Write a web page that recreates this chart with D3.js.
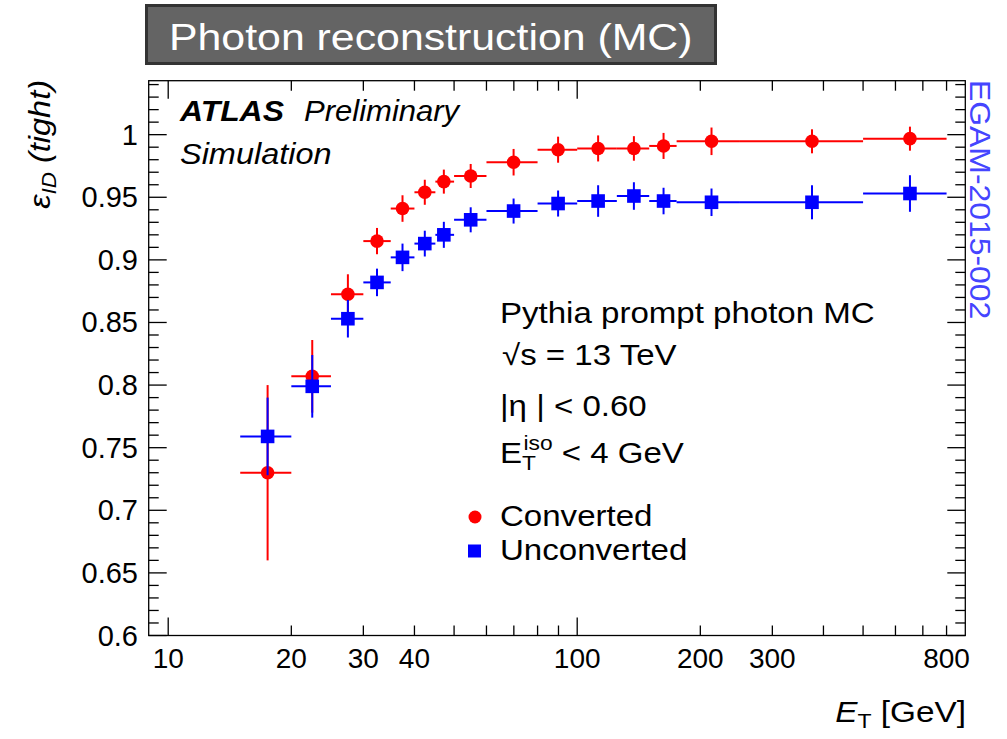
<!DOCTYPE html>
<html><head><meta charset="utf-8">
<script src="https://cdn.jsdelivr.net/npm/d3@7"></script>
<style>
body{margin:0;background:#fff}
svg{display:block}
text{font-family:"Liberation Sans",Arial,Helvetica,sans-serif}
</style>
</head><body>
<svg id="c" width="1007" height="739"></svg>
<script>
// ---- data ----
const binEdges   = [15,20,25,30,35,40,45,50,60,80,100,125,150,175,250,500,800];
const etMean     = [17.5,22.5,27.5,32.4,37.4,42.4,47.2,54.9,69.9,89.8,112.5,137.6,162.6,213,375,651];
const convEff    = [0.730,0.807,0.8725,0.915,0.941,0.954,0.9625,0.967,0.978,0.988,0.989,0.989,0.991,0.9947,0.9947,0.9968];
const convErr    = [0.070,0.029,0.016,0.0105,0.0106,0.010,0.0096,0.0096,0.0106,0.0104,0.0104,0.0098,0.0104,0.011,0.0096,0.0096];
const unconvEff  = [0.759,0.799,0.853,0.882,0.902,0.913,0.920,0.932,0.939,0.945,0.947,0.951,0.947,0.946,0.946,0.953];
const unconvErr  = [0.031,0.025,0.015,0.011,0.011,0.0103,0.0104,0.010,0.010,0.0104,0.0126,0.011,0.0106,0.011,0.0136,0.0146];
const xTickLabels = [10,20,30,40,100,200,300,800];
const xMajorTicks = [10,100];
const xMinorTicks = [20,30,40,50,60,70,80,90,200,300,400,500,600,700,800];
const yTickLabels = [0.6,0.65,0.7,0.75,0.8,0.85,0.9,0.95,1];
const xRange = [8.96, 889];
const yRange = [0.6, 1.0431];

// ---- layout ----
const L = 148.7, R = 965.3, T = 80.7, B = 635.5;
const SX = 1.15;
const svg = d3.select("#c");
const x = d3.scaleLog().domain(xRange).range([L, R]);
const y = d3.scaleLinear().domain(yRange).range([B, T]);

function label(tx, ty, size, opts={}){
  const rot = opts.rotate||0, sx = opts.sx||SX;
  return svg.append("text")
    .attr("transform",`translate(${tx},${ty}) rotate(${rot}) scale(${sx},1)`)
    .attr("font-size",size)
    .attr("text-anchor",opts.anchor||"start")
    .attr("fill",opts.fill||"#000");
}

// title box
svg.append("rect").attr("x",146.5).attr("y",5.5).attr("width",569).attr("height",58)
  .attr("fill","#646464").attr("stroke","#333").attr("stroke-width",3);
label(169,50,36,{fill:"#fff",sx:1.19}).text("Photon reconstruction (MC)");

// frame
svg.append("rect").attr("x",L).attr("y",T).attr("width",R-L).attr("height",B-T)
  .attr("fill","none").attr("stroke","#000").attr("stroke-width",1.3);

const g = svg.append("g").attr("stroke","#000").attr("stroke-width",1.3);
const yMinor = d3.range(60, 105, 1).map(v=>v/100).filter(v=>v<=yRange[1]);
yMinor.forEach(v=>{
  const major = Math.abs(v*20 - Math.round(v*20))<1e-6;
  const len = major?18:10;
  g.append("line").attr("x1",L).attr("x2",L+len).attr("y1",y(v)).attr("y2",y(v));
  g.append("line").attr("x1",R).attr("x2",R-len).attr("y1",y(v)).attr("y2",y(v));
});
xMajorTicks.concat(xMinorTicks).forEach(v=>{
  const len = xMajorTicks.includes(v)?18:10;
  g.append("line").attr("x1",x(v)).attr("x2",x(v)).attr("y1",B).attr("y2",B-len);
  g.append("line").attr("x1",x(v)).attr("x2",x(v)).attr("y1",T).attr("y2",T+len);
});

// tick labels
svg.append("g").selectAll("text").data(yTickLabels).join("text")
  .attr("x",138).attr("y",d=>y(d)+10).attr("text-anchor","end").attr("font-size",29)
  .text(d=>d3.format("")(d));
svg.append("g").selectAll("text").data(xTickLabels).join("text")
  .attr("x",d=>x(d)).attr("y",668).attr("text-anchor","middle").attr("font-size",28)
  .text(d=>d);

// axis titles
const yt = label(50,80,29,{rotate:-90,anchor:"end",sx:1.12}).attr("font-style","italic");
yt.append("tspan").text("ε");
yt.append("tspan").attr("font-size",20).attr("dy",6).text("ID");
yt.append("tspan").attr("dy",-6).text(" (tight)");

const xt = label(966,722,29,{anchor:"end",sx:1.15});
xt.append("tspan").attr("font-style","italic").text("E");
xt.append("tspan").attr("font-size",20).attr("dy",6).text("T");
xt.append("tspan").attr("dy",-6).text(" [GeV]");

label(970,80,29,{rotate:90,fill:"#4545ff",sx:1.1}).text("EGAM-2015-002");

// ATLAS label
label(180,121,29,{sx:1.1}).attr("font-weight","bold").attr("font-style","italic").text("ATLAS");
label(304,121,29,{sx:1.07}).attr("font-style","italic").text("Preliminary");
label(180,164,29,{sx:1.12}).attr("font-style","italic").text("Simulation");

// info text
label(500,323,29,{sx:1.14}).text("Pythia prompt photon MC");
label(502,365,29,{sx:1.14}).text("√s = 13 TeV");
label(500,416,29,{sx:1.14}).text("|η | < 0.60");
const iso = label(500,463,29,{sx:1.14});
iso.append("tspan").text("E");
iso.append("tspan").attr("font-size",20).attr("dy",7).text("T");
iso.append("tspan").attr("font-size",20).attr("dy",-20).attr("dx",-11).text("iso");
iso.append("tspan").attr("dy",13).text(" < 4 GeV");

// legend
svg.append("circle").attr("cx",475).attr("cy",517).attr("r",6.5).attr("fill","#ff0000");
label(500,526,29,{sx:1.14}).text("Converted");
svg.append("rect").attr("x",468).attr("y",544.5).attr("width",13).attr("height",13).attr("fill","#0000ff");
label(500,560,29,{sx:1.14}).text("Unconverted");

// data
function drawSeries(eff, err, color, shape){
  const gs = svg.append("g");
  const pts = eff.map((v,i)=>({v, e:err[i], lo:binEdges[i], hi:binEdges[i+1], et:etMean[i]}));
  gs.selectAll("line.h").data(pts).join("line").attr("class","h")
    .attr("x1",d=>x(d.lo)).attr("x2",d=>x(d.hi)).attr("y1",d=>y(d.v)).attr("y2",d=>y(d.v))
    .attr("stroke",color).attr("stroke-width",2);
  gs.selectAll("line.v").data(pts).join("line").attr("class","v")
    .attr("x1",d=>x(d.et)).attr("x2",d=>x(d.et)).attr("y1",d=>y(d.v-d.e)).attr("y2",d=>y(d.v+d.e))
    .attr("stroke",color).attr("stroke-width",2);
  if(shape==="circle"){
    gs.selectAll("circle").data(pts).join("circle")
      .attr("cx",d=>x(d.et)).attr("cy",d=>y(d.v)).attr("r",6.8).attr("fill",color);
  } else {
    gs.selectAll("rect").data(pts).join("rect")
      .attr("x",d=>x(d.et)-6.8).attr("y",d=>y(d.v)-6.8).attr("width",13.6).attr("height",13.6).attr("fill",color);
  }
}
drawSeries(convEff, convErr, "#ff0000", "circle");
drawSeries(unconvEff, unconvErr, "#0000ff", "square");
</script>
</body></html>
